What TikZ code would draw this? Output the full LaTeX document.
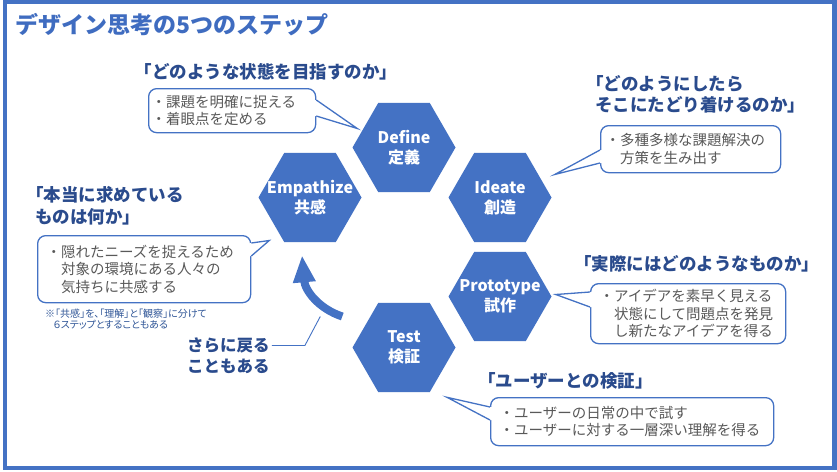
\documentclass[tikz,border=0pt]{standalone}
\usepackage{fontspec}
\setmainfont{Noto Sans CJK JP}
\usetikzlibrary{shapes.geometric,arrows.meta,calc}
\definecolor{hexblue}{HTML}{4472C4}
\definecolor{titleblue}{HTML}{3F6CC0}
\definecolor{navy}{HTML}{2A4B8D}
\definecolor{boxtext}{HTML}{595959}
\definecolor{noteblue}{HTML}{2F5597}
\newcommand\bubptr[4]{%
  \fill[white] ($(#1)+#4$) -- (#1) -- (#3) -- (#2) -- ($(#2)+#4$) -- cycle;
  \draw[ptrline] (#1) -- (#3) -- (#2);}
\begin{document}
\begin{tikzpicture}[x=1pt,y=-1pt,
  frame/.style={draw=hexblue, line width=4.5pt},
  titletext/.style={text=titleblue, font=\fontsize{23}{27}\selectfont\bfseries, inner sep=0pt, anchor=west},
  hexbox/.style={regular polygon, regular polygon sides=6, minimum size=103pt, inner sep=0pt, fill=hexblue, draw=none},
  hextext/.style={text=white, font=\fontsize{16}{20}\selectfont\bfseries, align=center, inner sep=0pt},
  heading/.style={text=navy, font=\fontsize{17.5}{21.5}\selectfont\bfseries, inner sep=0pt, align=left, anchor=west},
  bubble/.style={draw=hexblue, line width=1.3pt, fill=white, rounded corners=8pt, text=boxtext,
     font=\fontsize{14.5}{17.5}\selectfont, align=left, inner ysep=0pt, anchor=north west},
  ptrline/.style={draw=hexblue, line width=1.3pt, line join=miter},
  notetext/.style={text=noteblue, font=\fontsize{10}{11.5}\selectfont\addfontfeatures{RawFeature=+palt}, inner sep=0pt, align=left, anchor=west},
  rettext/.style={text=navy, font=\fontsize{16.5}{21}\selectfont\bfseries, inner sep=0pt, anchor=west},
  bigarrow/.style={draw=hexblue, line width=8pt, -{Triangle[length=27pt,width=21pt]}},
  thinline/.style={draw=hexblue, line width=0.9pt},
]
\useasboundingbox (0,0) rectangle (837,471);
\fill[white] (0,0) rectangle (837,471);
\draw[frame] (5,2.2) rectangle (834.5,468);

\node[titletext] (title) at (15,25) {デザイン思考の5つのステップ};

% hexagons
\node[hexbox] (def) at (404,147.5) {};
\node[hexbox] (emp) at (310,197.5) {};
\node[hexbox] (ide) at (500,197.5) {};
\node[hexbox] (pro) at (500,296.5) {};
\node[hexbox] (tst) at (404,347.5) {};
\node[hextext] (def-t) at (def) {Define\\定義};
\node[hextext] (emp-t) at (emp) {Empathize\\共感};
\node[hextext] (ide-t) at (ide) {Ideate\\創造};
\node[hextext] (pro-t) at (pro) {Prototype\\試作};
\node[hextext] (tst-t) at (tst) {Test\\検証};

% return arrow
\coordinate (arrTail) at ($(tst.west)+(-10,-31)$);
\coordinate (arrTip) at ($(emp.south)+(-8,13)$);
\draw[bigarrow] (arrTail) .. controls ($(arrTail)+(-24,-8)$) and ($(arrTip)+(3,35)$) .. (arrTip);
\coordinate (arrMid) at ($(arrTail)+(-22,0)$);
\node[rettext] (ret1) at (187,345.5) {さらに戻る};
\node[rettext] (ret2) at (187,366.5) {こともある};
\draw[thinline] (ret1.east) ++(2,0) -- ($(ret1.east)+(35,0)$) -- (arrMid);

% headings
\node[heading] (h1) at (134.5,71.5) {「どのような状態を目指すのか」};
\node[heading] (h2) at (595,94.5) {\hspace*{-0.5em}「どのようにしたら\\そこにたどり着けるのか」};
\node[heading] (h3) at (35,206) {\hspace*{-0.5em}「本当に求めている\\ものは何か」};
\node[heading] (h4) at (574,264) {「実際にはどのようなものか」};
\node[heading] (h5) at (478,381) {「ユーザーとの検証」};

% callout boxes
\node[bubble, inner xsep=3pt, text width=161pt, minimum height=44pt] (b1) at (148,88)
  {・課題を明確に捉える\\・着眼点を定める};
\node[bubble, inner xsep=5pt, text width=170pt, minimum height=47pt] (b2) at (600,125)
  {・多種多様な課題解決の\\\hspace*{1em}方策を生み出す};
\node[bubble, inner xsep=9pt, text width=195pt, minimum height=67pt] (b3) at (37,235)
  {・隠れたニーズを捉えるため\\\hspace*{1em}対象の環境にある人々の\\\hspace*{1em}気持ちに共感する};
\node[bubble, inner xsep=9pt, text width=177pt, minimum height=60pt] (b4) at (590,283)
  {・アイデアを素早く見える\\\hspace*{1em}状態にして問題点を発見\\\hspace*{1em}し新たなアイデアを得る};
\node[bubble, inner xsep=9pt, text width=265pt, minimum height=48pt] (b5) at (490,397)
  {・ユーザーの日常の中で試す\\・ユーザーに対する一層深い理解を得る};

% pointers
\coordinate (b1p1) at ($(b1.north east)+(0,12)$);
\coordinate (b1p2) at ($(b1.north east)+(0,28)$);
\coordinate (t1) at ($(def.west)+(5,-19)$);
\bubptr{b1p1}{b1p2}{t1}{(-2,0)}
\coordinate (b2p1) at ($(b2.north west)+(0,25)$);
\coordinate (b2p2) at ($(b2.north west)+(0,38)$);
\coordinate (t2) at ($(ide.east)+(3,-23)$);
\bubptr{b2p1}{b2p2}{t2}{(2,0)}
\coordinate (b3p1) at ($(b3.north east)+(0,8)$);
\coordinate (b3p2) at ($(b3.north east)+(0,21)$);
\coordinate (t3) at ($(emp.west)+(11,43)$);
\bubptr{b3p1}{b3p2}{t3}{(-2,0)}
\coordinate (b4p1) at ($(b4.north west)+(0,9)$);
\coordinate (b4p2) at ($(b4.north west)+(0,24)$);
\coordinate (t4) at ($(pro.east)+(4,-2)$);
\bubptr{b4p1}{b4p2}{t4}{(2,0)}
\coordinate (b5p1) at ($(b5.north west)+(0,10)$);
\coordinate (b5p2) at ($(b5.north west)+(0,23)$);
\coordinate (t5) at ($(tst.south)+(43,5)$);
\bubptr{b5p1}{b5p2}{t5}{(2,0)}

% note
\node[notetext] (note) at (45,319) {※「共感」を、「理解」と「観察」に分けて\\\hspace*{0.8em}６ステップとすることもある};
\end{tikzpicture}
\end{document}
